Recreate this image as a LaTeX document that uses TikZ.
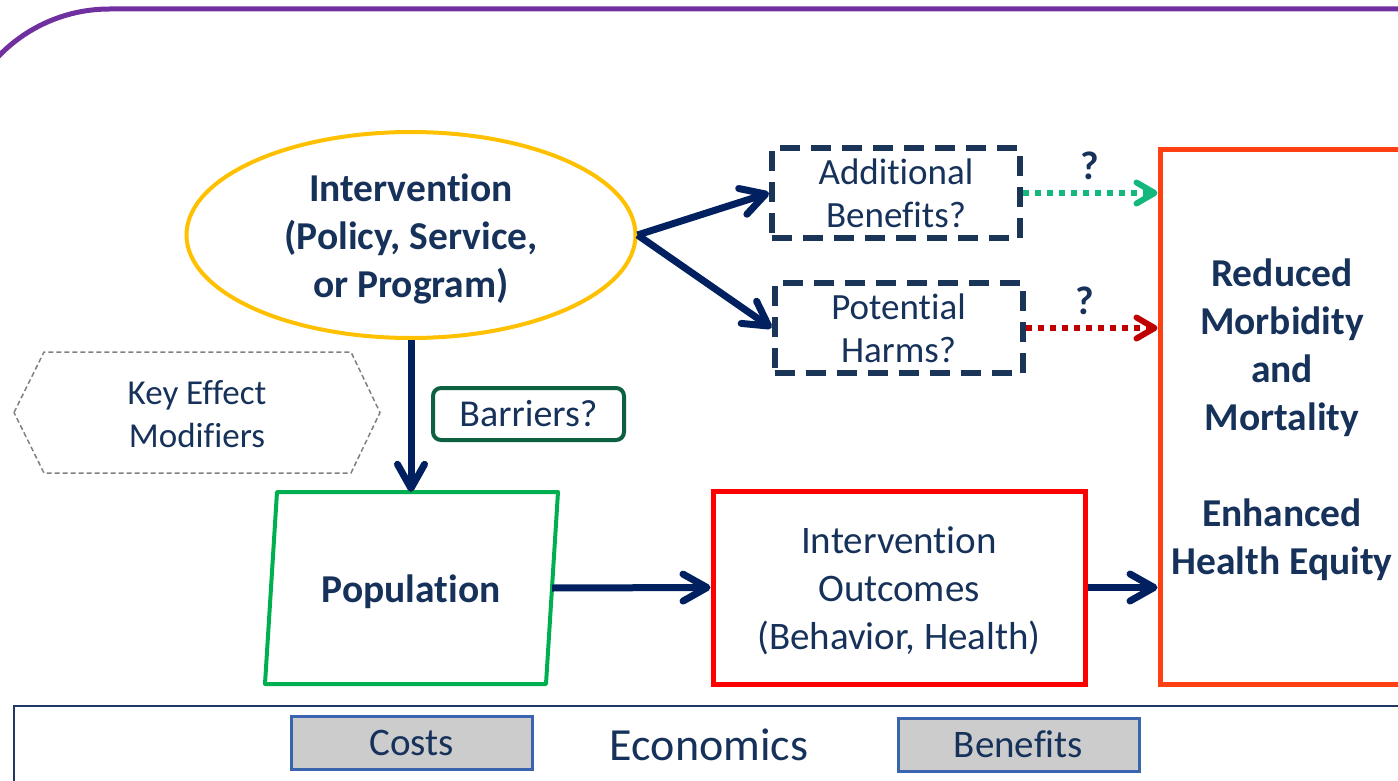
\documentclass[tikz,border=0pt]{standalone}
\usepackage{fontspec}
\setmainfont{Carlito}[Ligatures=NoCommon]
\usetikzlibrary{arrows.meta,shapes.geometric}
\definecolor{txtc}{HTML}{17325A}
\definecolor{navyc}{HTML}{002060}
\definecolor{dashc}{HTML}{1A3558}
\definecolor{yelc}{HTML}{FFC000}
\definecolor{popc}{HTML}{00B050}
\definecolor{barc}{HTML}{0E6140}
\definecolor{outc}{HTML}{FF0000}
\definecolor{resc}{HTML}{FF4013}
\definecolor{dgreen}{HTML}{14B87C}
\definecolor{dred}{HTML}{C00000}
\definecolor{econc}{HTML}{1F3864}
\definecolor{boxc}{HTML}{3B64AE}
\definecolor{grayc}{HTML}{CCCCCC}
\definecolor{hexc}{HTML}{808080}
\definecolor{purc}{HTML}{7030A0}
\tikzset{
  txt/.style={text=txtc, align=center, inner sep=0pt, font=\fontsize{39}{48}\selectfont},
  bt/.style={text=txtc, align=center, inner sep=0pt, font=\bfseries\fontsize{39.5}{48}\selectfont},
  navyarrow/.style={draw=navyc, line width=7pt, -{Straight Barb[length=24pt,width=27pt,round]}},
  dotarrow/.style={line width=6pt, dash pattern=on 6pt off 6pt, -{Straight Barb[length=18pt,width=21pt,round]}},
  dashbox/.style={draw=dashc, line width=6pt, dash pattern=on 20pt off 11pt, minimum width=248pt, minimum height=90pt, inner sep=0pt, text=txtc, align=center, font=\fontsize{37}{43}\selectfont},
  qmark/.style={text=txtc, inner sep=0pt, font=\bfseries\fontsize{40}{48}\selectfont},
  ecobox/.style={fill=grayc, draw=boxc, line width=3pt, minimum width=241pt, minimum height=53pt, inner sep=0pt, text=txtc, font=\fontsize{39}{46}\selectfont}
}
\begin{document}
\begin{tikzpicture}[x=1pt,y=-1pt]
\useasboundingbox (0,0) rectangle (1398,781);
\begin{scope}
\clip (0,0) rectangle (1398,781);
% purple frame
\draw[purc, line width=5pt, rounded corners=154pt] (-44.5,900) -- (-44.5,9) -- (1500,9);

% intervention ellipse
\node[ellipse, draw=yelc, line width=4pt, minimum width=449pt, minimum height=206pt, inner sep=0pt] (int) at (411,235) {};
\node[bt] (intt) at (411,238.5) {Intervention\\(Policy, Service,\\or Program)};

% dashed boxes
\node[dashbox] (ab) at (896,193) {Additional\\Benefits?};
\node[dashbox] (ph) at (898.5,328) {Potential\\Harms?};

% result box
\node[draw=resc, line width=5pt, minimum width=244pt, minimum height=534pt, inner sep=0pt] (res) at (1282,417) {};
\node[bt] (rest) at (1282,420) {Reduced\\Morbidity\\and\\Mortality\\[48pt]Enhanced\\Health Equity};

% key effect modifiers hexagon
\draw[hexc, line width=1.5pt, dash pattern=on 5pt off 3pt] (14,412.5) -- (44,352) -- (351,352) -- (380,412.5) -- (351,473) -- (44,473) -- cycle;
\node[text=txtc, align=center, inner sep=0pt, font=\fontsize{35}{43}\selectfont] (kem) at (197,414) {Key Effect\\Modifiers};

\node[draw=barc, line width=4pt, rounded corners=8pt, minimum width=191pt, minimum height=52pt, inner sep=0pt, text=txtc, font=\fontsize{38}{44}\selectfont] (bar) at (528.5,414) {Barriers?};

% population parallelogram
\draw[popc, line width=4pt, line join=round] (277,492) -- (558,492) -- (546,684) -- (265,684) -- cycle;
\node[minimum width=282pt, minimum height=192pt, inner sep=0pt] (pop) at (411,588) {};
\node[bt] (popt) at (411,591.5) {Population};

% intervention outcomes
\node[draw=outc, line width=5pt, minimum width=372pt, minimum height=193pt, inner sep=0pt] (out) at (899,587.5) {};
\node[txt] (outt) at (899,590.5) {Intervention\\Outcomes\\(Behavior, Health)};

% connectors
\draw[navyarrow] (int.south) -- (pop.north);
\draw[navyarrow] (int.east) -- (ab.west);
\draw[navyarrow] (int.east) -- (ph.west);
\draw[navyarrow] (pop.east) -- (out.west);
\draw[navyarrow] (out.east) -- (res.west |- out.east);
\draw[dotarrow, draw=dgreen] (ab.east) -- (res.west |- ab.east) node[pos=0.5, above=10pt, qmark] (q1) {?};
\draw[dotarrow, draw=dred] (ph.east) -- (res.west |- ph.east) node[pos=0.45, above=10pt, qmark] (q2) {?};

% economics
\draw[econc, line width=2pt] (14,706) rectangle (1420,820);
\node[ecobox] (costs) at (411.5,742.5) {Costs};
\node[text=txtc, inner sep=0pt, font=\fontsize{46}{52}\selectfont] (eco) at (709,745) {Economics};
\node[ecobox] (ben) at (1018.5,744.5) {Benefits};
\end{scope}
\end{tikzpicture}
\end{document}
